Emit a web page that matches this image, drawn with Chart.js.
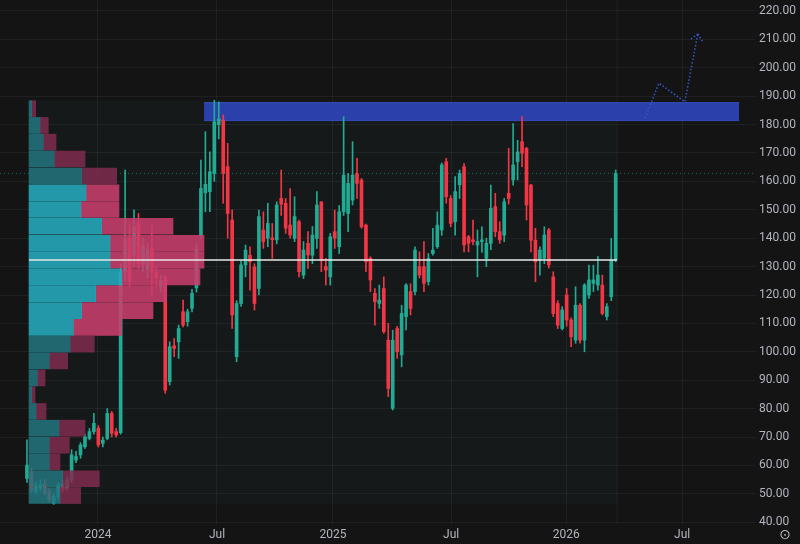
<!DOCTYPE html>
<html><head><meta charset="utf-8">
<script src="https://cdn.jsdelivr.net/npm/chart.js@4.4.1/dist/chart.umd.min.js"></script>
<style>
html,body{margin:0;padding:0;background:#141414;overflow:hidden}
#wrap{position:relative;width:800px;height:544px}
canvas{position:absolute;left:0;top:0}
#prof{pointer-events:none}
</style></head><body>
<div id="wrap"><canvas id="main" width="800" height="544"></canvas><canvas id="prof" width="800" height="544"></canvas></div>
<script>
// ---- weekly candles (index = week number from first bar) ----
const opens  = [55.4,57.8,50.8,52.0,53.7,50.7,46.6,49.0,53.7,51.9,54.9,61.9,63.7,66.6,69.5,71.9,73.1,67.8,69.5,78.3,71.9,71.5,128.0,140.0,134.0,145.0,131.0,129.0,136.4,128.0,123.0,126.4,89.5,102.1,103.5,114.1,110.6,115.3,122.5,141.1,156.0,156.4,162.8,180.0,181.6,165.2,146.4,98.3,117.0,130.6,134.0,129.9,122.3,142.9,140.0,140.1,139.4,154.0,152.3,144.6,139.9,145.8,127.0,138.2,134.0,139.9,152.8,130.0,126.4,142.3,137.0,149.3,148.7,153.4,162.8,160.5,144.6,132.9,120.6,117.0,122.3,104.1,80.1,108.2,98.9,112.4,121.2,121.2,130.0,130.0,124.7,134.6,137.0,142.9,166.9,154.0,145.8,158.8,165.2,140.5,139.4,137.6,138.8,132.9,138.2,151.1,142.3,141.1,155.8,160.5,166.9,174.0,171.6,158.7,139.3,132.3,132.9,142.9,126.4,117.0,108.2,120.0,111.2,104.1,116.4,104.1,120.0,124.1,123.5,123.5,112.4,119.4,132.3];
const highs  = [69.0,59.0,54.0,55.0,55.0,52.0,50.0,54.0,55.0,56.0,65.5,65.0,68.0,71.0,73.0,78.3,74.0,70.0,80.0,79.0,73.0,131.0,164.0,145.0,150.0,148.7,140.0,138.0,144.6,130.0,127.0,127.0,103.5,104.7,109.4,118.2,115.0,122.0,138.0,167.5,177.5,170.4,188.6,188.0,183.4,173.4,150.0,118.0,132.0,137.6,137.0,131.0,149.9,149.3,152.3,145.2,152.8,164.0,154.0,157.5,154.6,146.4,138.8,142.3,144.1,156.4,152.8,132.9,141.7,149.9,151.5,182.8,162.8,174.0,168.1,161.0,145.0,133.5,122.3,123.5,126.4,110.0,107.6,109.0,116.4,124.0,124.0,137.0,135.2,138.8,134.6,143.5,149.3,166.5,168.1,155.0,161.7,164.0,166.3,141.0,146.4,142.9,144.0,140.0,158.7,155.8,145.8,154.0,171.6,180.4,174.5,182.8,172.0,159.0,143.5,137.0,144.0,143.5,128.2,118.0,115.9,122.3,112.0,122.9,117.0,124.0,130.5,130.5,133.5,127.0,117.0,139.9,164.0];
const lows   = [54.0,50.5,50.0,51.0,49.5,47.0,46.3,48.0,50.5,51.0,54.0,61.0,62.5,66.0,69.0,71.0,66.5,66.5,69.0,70.0,70.0,71.0,125.0,123.0,130.0,129.4,128.0,126.0,120.0,123.0,121.0,85.4,88.3,98.3,97.7,108.8,109.0,114.0,121.0,140.0,149.3,149.3,160.0,175.0,152.3,140.0,108.2,96.5,116.0,126.4,121.7,114.7,120.0,136.4,137.0,132.9,138.0,148.0,141.7,140.0,138.8,126.4,125.8,129.4,131.0,136.4,128.2,123.5,123.5,136.4,134.6,148.0,142.3,151.7,154.0,143.5,128.2,121.2,109.4,115.3,106.5,84.2,79.5,97.7,94.7,107.7,113.0,120.0,126.0,121.2,123.5,134.0,136.4,141.0,152.3,144.0,141.1,154.0,135.2,135.2,137.6,126.4,135.0,130.0,136.0,140.5,138.2,138.8,152.0,158.7,160.5,165.2,146.4,135.2,124.7,127.0,131.0,129.5,112.4,108.2,107.7,109.0,101.8,103.0,103.0,100.0,118.8,121.2,121.7,113.0,111.2,118.0,131.7];
const closes = [60.1,51.3,53.1,53.1,50.2,47.8,49.0,53.1,51.3,54.9,63.7,63.1,67.2,70.1,71.9,74.8,67.2,68.9,78.3,71.3,70.7,128.0,140.0,125.0,144.0,131.0,137.0,136.0,128.0,126.0,125.0,86.5,101.8,101.2,108.2,109.4,114.1,120.6,136.0,157.5,159.0,163.4,181.0,182.0,162.8,148.7,113.0,117.0,130.6,135.8,131.7,117.0,147.6,138.8,145.2,139.5,151.7,152.0,143.5,141.1,147.6,128.2,135.8,134.1,141.1,151.7,132.3,128.8,140.5,140.0,149.3,162.2,159.3,162.2,159.3,144.0,131.7,125.3,117.6,118.2,107.1,87.1,104.1,100.0,113.5,123.5,115.3,135.8,127.0,124.1,132.9,135.8,144.6,165.8,154.6,145.2,156.4,162.8,137.6,138.2,138.8,138.8,139.4,138.2,150.5,142.3,139.4,152.8,154.0,165.8,170.4,169.9,151.7,139.3,131.7,135.8,141.1,130.6,113.5,109.4,114.7,111.2,105.3,116.4,104.1,123.5,125.3,125.3,127.0,113.5,115.9,132.3,162.8];

// ---- time axis ----
const tickWeeks  = [15.9, 42.6, 68.6, 95.1, 120.9, 146.9];
const tickLabels = ['2024', 'Jul', '2025', 'Jul', '2026', 'Jul'];
const priceTicks = [40,50,60,70,80,90,100,110,120,130,140,150,160,170,180,190,200,210,220];

// ---- volume profile (rows top -> bottom) ----
const rowPrices = [185.6,179.7,173.8,167.9,161.9,156.0,150.1,144.2,138.2,132.3,126.4,120.5,114.5,108.6,102.7,96.8,90.8,84.9,79.0,73.1,67.1,61.2,55.3,49.4];
const upVol     = [2.7,11,14.3,25.3,52.7,57,52,72.7,81,81,92.7,66.7,52.7,44.3,41,20.3,8.3,2.7,7,30,20.3,20.3,33.7,31];
const downVol   = [4.0,8.3,12.7,30.7,35,33,38,71.3,94,94,78.3,71,71.3,48.4,24.3,18.4,7.7,3.3,10,26,20,10.7,36.6,20.7];
const valueArea = [0,0,0,0,0,1,1,1,1,1,1,1,1,1,0,0,0,0,0,0,0,0,0,0];
const pocPrice = 132.3;
const profileHigh = 188.6, profileLow = 46.3;
const profileStartWeek = 0.45, profileEndWeek = 132.3;

// ---- drawn zone and projection ----
const zoneStartWeek = 39.7, zoneEndWeek = 159.7, zoneLow = 181.4, zoneHigh = 187.7;
const projWeeks  = [138.6, 141.7, 147.5, 150.4];
const projPrices = [182.3, 194.6, 188.0, 211.9];
const lastPrice = closes[closes.length - 1];

// ---- layout constants ----
const X_MIN = -6.05, X_MAX = 163.23, Y_MIN = 39.37, Y_MAX = 223.87;
const AX_W = 45, AX_H = 20;
const UP = '#22ab94', DOWN = '#f23645';
const TXT = '#b2b5be';
const GRID = 'rgba(255,255,255,0.055)';
const FONT = {family: 'Roboto, "Noto Sans", sans-serif', size: 12};

const wickData = opens.map((o, i) => ({x: i, y: [lows[i], highs[i]]}));
const bodyData = opens.map((o, i) => {
  let a = o, b = closes[i];
  if (Math.abs(a - b) < 0.5) { const m = (a + b) / 2; a = m - 0.25; b = m + 0.25; }
  return {x: i, y: [a, b]};
});
const colorOf = i => (closes[i] >= opens[i] ? UP : DOWN);

const bgPlugin = {
  id: 'bg',
  beforeDraw(c) { const ctx = c.ctx; ctx.save(); ctx.fillStyle = '#141414'; ctx.fillRect(0, 0, c.width, c.height); ctx.restore(); },
  afterDatasetsDraw(c) {
    const meta = c.getDatasetMeta(c.data.datasets.findIndex(d => d.label === 'proj'));
    const pts = meta.data;
    const p1 = pts[pts.length - 2], p2 = pts[pts.length - 1];
    const ang = Math.atan2(p1.y - p2.y, p1.x - p2.x);
    const ctx = c.ctx; ctx.save();
    ctx.strokeStyle = '#3457d0'; ctx.lineWidth = 1.5; ctx.setLineDash([1.5, 2]);
    [0.75, -0.75].forEach(d => {
      ctx.beginPath(); ctx.moveTo(p2.x, p2.y);
      ctx.lineTo(p2.x + 9 * Math.cos(ang + d), p2.y + 9 * Math.sin(ang + d)); ctx.stroke();
    });
    ctx.restore();
  },
  afterDraw(c) {
    const ctx = c.ctx; ctx.save();
    ctx.fillStyle = TXT; ctx.font = '14px "DejaVu Sans"'; ctx.textAlign = 'center'; ctx.textBaseline = 'middle';
    ctx.fillText('⊙', 785, 535); ctx.restore();
  }
};

new Chart(document.getElementById('main'), {
  type: 'bar',
  data: {
    datasets: [
      {type: 'line', label: 'boxTop', data: [{x: profileStartWeek, y: profileHigh}, {x: profileEndWeek, y: profileHigh}], borderWidth: 0, pointRadius: 0, fill: '+1', backgroundColor: 'rgba(60,150,140,0.045)', order: 20},
      {type: 'line', label: 'boxBot', data: [{x: profileStartWeek, y: profileLow}, {x: profileEndWeek, y: profileLow}], borderWidth: 0, pointRadius: 0, fill: false, order: 21},
      {type: 'line', label: 'edge', data: [{x: profileEndWeek, y: Y_MIN}, {x: profileEndWeek, y: Y_MAX}], borderColor: 'rgba(255,255,255,0.05)', borderWidth: 1, pointRadius: 0, order: 19},
      {type: 'line', label: 'zoneTop', data: [{x: zoneStartWeek, y: zoneHigh}, {x: zoneEndWeek, y: zoneHigh}], borderColor: '#3a55c9', borderWidth: 1, pointRadius: 0, fill: '+1', backgroundColor: 'rgba(44,66,178,0.95)', order: 15},
      {type: 'line', label: 'zoneBot', data: [{x: zoneStartWeek, y: zoneLow}, {x: zoneEndWeek, y: zoneLow}], borderColor: '#3a55c9', borderWidth: 1, pointRadius: 0, fill: false, order: 16},
      {label: 'wick', data: wickData, backgroundColor: c => colorOf(c.dataIndex), barThickness: 1, grouped: false, order: 6},
      {label: 'body', data: bodyData, backgroundColor: c => colorOf(c.dataIndex), barThickness: 3, grouped: false, order: 5},
      {type: 'line', label: 'last', data: [{x: X_MIN, y: lastPrice}, {x: X_MAX, y: lastPrice}], borderColor: 'rgba(34,171,148,0.55)', borderWidth: 1, borderDash: [1, 3], pointRadius: 0, order: 3},
      {type: 'line', label: 'proj', data: projWeeks.map((w, i) => ({x: w, y: projPrices[i]})), borderColor: '#3457d0', borderWidth: 1.5, borderDash: [1.5, 2], pointRadius: 0, tension: 0, order: 1}
    ]
  },
  options: {
    responsive: false, animation: false, events: [],
    layout: {padding: 0},
    plugins: {legend: {display: false}, tooltip: {enabled: false}},
    scales: {
      x: {
        type: 'linear', min: X_MIN, max: X_MAX, offset: false,
        grid: {color: GRID, drawTicks: false, offset: false}, border: {display: false},
        ticks: {color: TXT, font: FONT, padding: 4, autoSkip: false, maxRotation: 0, callback: (v, i) => tickLabels[i]},
        afterBuildTicks: s => { s.ticks = tickWeeks.map(v => ({value: v})); },
        afterFit: s => { s.height = AX_H; s.paddingLeft = 0; s.paddingRight = 0; }
      },
      y: {
        type: 'linear', position: 'right', min: Y_MIN, max: Y_MAX, beginAtZero: false,
        grid: {color: GRID, drawTicks: false}, border: {display: false},
        ticks: {color: TXT, font: FONT, padding: 4, callback: v => v.toFixed(2)},
        afterBuildTicks: s => { s.ticks = priceTicks.map(v => ({value: v})); },
        afterFit: s => { s.width = AX_W; s.paddingTop = 0; s.paddingBottom = 0; }
      }
    }
  },
  plugins: [bgPlugin]
});

// ---- volume profile overlay (same plot area) ----
const PX_MIN = -29, PX_MAX = 726;
new Chart(document.getElementById('prof'), {
  type: 'bar',
  data: {
    datasets: [
      {type: 'line', label: 'poc', data: [{x: 0, y: pocPrice}, {x: 588, y: pocPrice}], borderColor: '#e8e8e8', borderWidth: 1.6, pointRadius: 0, order: 0},
      {label: 'up', data: rowPrices.map((p, i) => ({x: [0, upVol[i]], y: p})),
       backgroundColor: c => valueArea[c.dataIndex] ? 'rgba(36,170,188,0.88)' : 'rgba(34,118,128,0.85)', barThickness: 16, grouped: false, order: 2},
      {label: 'down', data: rowPrices.map((p, i) => ({x: [upVol[i], upVol[i] + downVol[i]], y: p})),
       backgroundColor: c => valueArea[c.dataIndex] ? 'rgba(200,62,108,0.88)' : 'rgba(128,44,80,0.85)', barThickness: 16, grouped: false, order: 2}
    ]
  },
  options: {
    indexAxis: 'y', responsive: false, animation: false, events: [],
    layout: {padding: {left: 0, top: 0, right: AX_W, bottom: AX_H}},
    plugins: {legend: {display: false}, tooltip: {enabled: false}},
    scales: {
      x: {type: 'linear', min: PX_MIN, max: PX_MAX, display: false, offset: false},
      y: {type: 'linear', min: Y_MIN, max: Y_MAX, display: false, offset: false, grid: {offset: false}}
    }
  }
});
</script>
</body></html>
